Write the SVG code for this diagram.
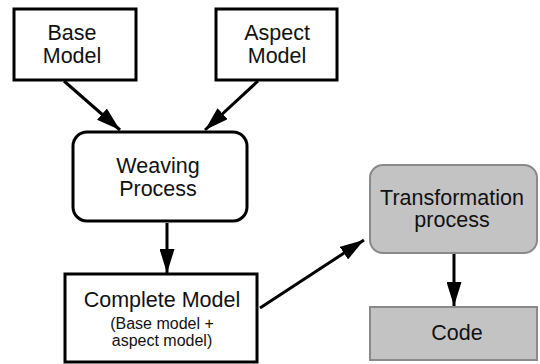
<svg xmlns="http://www.w3.org/2000/svg" width="540" height="364" viewBox="0 0 540 364">
  <style>
    .box { fill: #ffffff; stroke: #000000; stroke-width: 3; }
    .gbox { fill: #c3c3c3; stroke: #8a8a8a; stroke-width: 2; }
    .lbl { font-family: "Liberation Sans", Arial, sans-serif; font-size: 21.5px; fill: #111111; text-anchor: middle; }
    .sub { font-family: "Liberation Sans", Arial, sans-serif; font-size: 16px; fill: #111111; text-anchor: middle; }
    .edge { stroke: #000000; stroke-width: 3; fill: none; marker-end: url(#head); }
  </style>
  <defs>
    <marker id="head" viewBox="0 0 16 10" refX="16" refY="5" markerWidth="8" markerHeight="5" markerUnits="strokeWidth" orient="auto">
      <path d="M0,0 L16,5 L0,10 z" fill="#000000"/>
    </marker>
  </defs>
  <rect width="540" height="364" fill="#ffffff"/>

  <g id="connectors">
    <line class="edge" x1="64" y1="81" x2="120" y2="130"/>
    <line class="edge" x1="258" y1="81" x2="205" y2="130"/>
    <line class="edge" x1="167" y1="223" x2="167" y2="273"/>
    <line class="edge" x1="260" y1="308" x2="364" y2="240"/>
    <line class="edge" x1="454" y1="254" x2="454" y2="306"/>
  </g>

  <g id="base-model">
    <rect class="box" x="14" y="9" width="122" height="71"/>
    <text class="lbl" x="72" y="40">Base</text>
    <text class="lbl" x="72" y="63">Model</text>
  </g>

  <g id="aspect-model">
    <rect class="box" x="216" y="9" width="121" height="71"/>
    <text class="lbl" x="277" y="40">Aspect</text>
    <text class="lbl" x="277" y="63">Model</text>
  </g>

  <g id="weaving-process">
    <rect class="box" x="73" y="132" width="174" height="89" rx="14" ry="14"/>
    <text class="lbl" x="158" y="173">Weaving</text>
    <text class="lbl" x="158" y="196">Process</text>
  </g>

  <g id="complete-model">
    <rect class="box" x="65" y="274" width="192" height="88"/>
    <text class="lbl" x="162" y="307">Complete Model</text>
    <text class="sub" x="162" y="329">(Base model +</text>
    <text class="sub" x="162" y="346">aspect model)</text>
  </g>

  <g id="transformation-process">
    <rect class="gbox" x="370" y="165" width="167" height="88" rx="13" ry="13"/>
    <text class="lbl" x="452" y="205">Transformation</text>
    <text class="lbl" x="452" y="227">process</text>
  </g>

  <g id="code">
    <rect class="gbox" x="370" y="307" width="167" height="53"/>
    <text class="lbl" x="457" y="340">Code</text>
  </g>
</svg>
